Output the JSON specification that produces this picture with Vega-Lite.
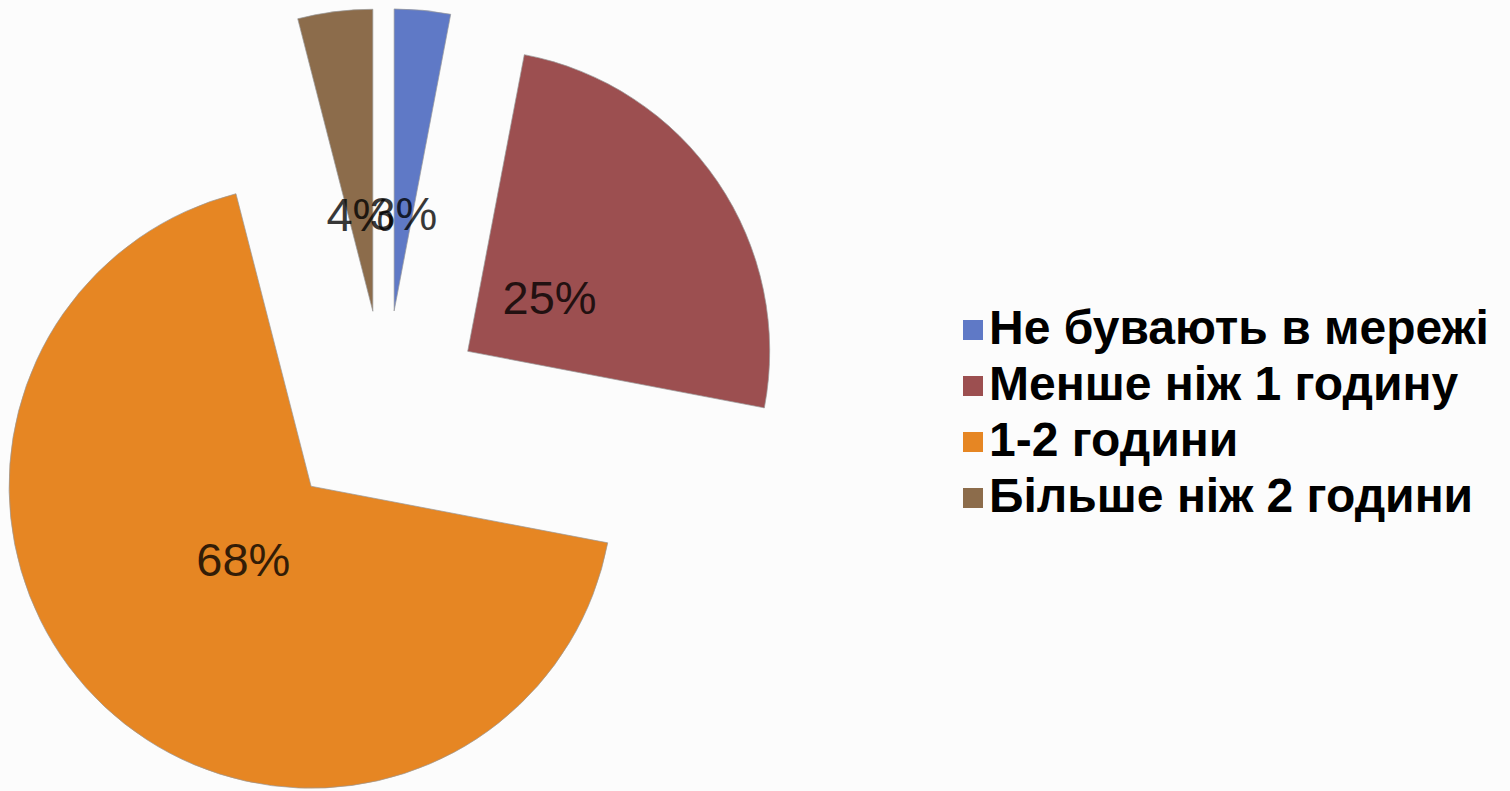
{
  "$schema": "https://vega.github.io/schema/vega-lite/v6.json",
  "width": 1510,
  "height": 791,
  "autosize": {"type": "none"},
  "padding": 0,
  "background": "#fcfcfc",
  "data": {
    "values": [
      {"category": "Не бувають в мережі", "value": 3},
      {"category": "Менше ніж 1 годину", "value": 25},
      {"category": "1-2 години", "value": 68},
      {"category": "Більше ніж 2 години", "value": 4}
    ]
  },
  "transform": [
    {"window": [{"op": "sum", "field": "value", "as": "cum"}], "frame": [null, 0]},
    {"joinaggregate": [{"op": "sum", "field": "value", "as": "total"}]},
    {"calculate": "datum.cum - datum.value", "as": "start"},
    {"calculate": "datum.cum - datum.value / 2", "as": "mid"},
    {"calculate": "datum.value / datum.total", "as": "share"},
    {"calculate": "2 * PI * datum.mid / datum.total", "as": "midAngle"},
    {"calculate": "datum.category === '1-2 години' ? 108 : datum.category === 'Менше ніж 1 годину' ? 100 : 97", "as": "explode"},
    {"calculate": "sin(datum.midAngle) * datum.explode", "as": "dx"},
    {"calculate": "cos(datum.midAngle) * datum.explode", "as": "dy"}
  ],
  "encoding": {
    "x": {"field": "dx", "type": "quantitative", "scale": {"domain": [-385, 1125], "nice": false, "zero": false}, "axis": null},
    "y": {"field": "dy", "type": "quantitative", "scale": {"domain": [-383.5, 407.5], "nice": false, "zero": false}, "axis": null}
  },
  "layer": [
    {
      "mark": {"type": "arc", "radius": 302, "stroke": "#9a9a9a", "strokeWidth": 0.7},
      "encoding": {
        "theta": {"field": "start", "type": "quantitative", "stack": null, "scale": {"domain": [0, 100]}},
        "theta2": {"field": "cum"},
        "color": {
          "field": "category",
          "type": "nominal",
          "scale": {
            "domain": ["Не бувають в мережі", "Менше ніж 1 годину", "1-2 години", "Більше ніж 2 години"],
            "range": ["#5f79c6", "#9c4f50", "#e68623", "#8c6c4b"]
          },
          "legend": {
            "orient": "none",
            "legendX": 949,
            "legendY": 306,
            "title": null,
            "symbolType": "square",
            "symbolSize": 400,
            "symbolStrokeWidth": 0,
            "labelFontSize": 48,
            "labelFont": "Liberation Sans",
            "labelFontWeight": "bold",
            "labelColor": "#000000",
            "labelLimit": 1000,
            "labelOffset": -8,
            "rowPadding": 8,
            "padding": 0
          }
        }
      }
    },
    {
      "mark": {"type": "text", "radius": 99, "dy": 4, "fontSize": 47, "font": "Liberation Sans", "fill": "#000000", "opacity": 0.78, "align": "center", "baseline": "middle"},
      "encoding": {
        "theta": {"field": "mid", "type": "quantitative", "stack": null},
        "text": {"field": "share", "type": "quantitative", "format": ".0%"}
      }
    }
  ],
  "config": {"view": {"stroke": null}}
}
